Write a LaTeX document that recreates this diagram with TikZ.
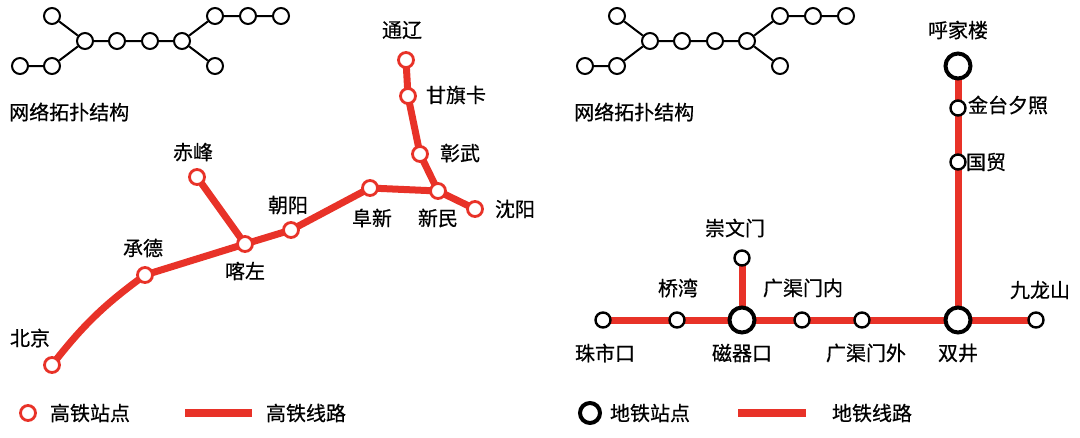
\documentclass[tikz,border=0pt]{standalone}
\usepackage{fontspec}
\setmainfont{Noto Sans CJK SC}[FakeBold=0.6]
\definecolor{railred}{RGB}{232,50,40}
\tikzset{
  topo/.style={circle,draw=black,fill=white,line width=2pt,minimum size=16pt,inner sep=0pt},
  hsr/.style={circle,draw=railred,fill=white,line width=2.8pt,minimum size=15pt,inner sep=0pt},
  metro/.style={circle,draw=black,fill=white,line width=2.4pt,minimum size=15pt,inner sep=0pt},
  hub/.style={circle,draw=black,fill=white,line width=4pt,minimum size=25pt,inner sep=0pt},
  track/.style={railred,line width=7pt},
  lbl/.style={font=\fontsize{20}{22}\selectfont,inner sep=1pt}
}
\begin{document}
\begin{tikzpicture}[x=1pt,y=-1pt]
\useasboundingbox (0,0) rectangle (1080,437);
% network topology, left and right
\foreach \dx in {0,565} {
  \begin{scope}[xshift=\dx]
    \foreach \a/\b in {20/66,52/66,85/41,117/41,150/41,182/41,215/16,248/16,281/16,215/66,52/16}
      \node[topo] (t\a\b) at (\a,\b) {};
    \draw[line width=2pt] (t2066)--(t5266)--(t8541)--(t11741)--(t15041)--(t18241)--(t21516)--(t24816)--(t28116);
    \draw[line width=2pt] (t5216)--(t8541) (t18241)--(t21566);
    \node[lbl,anchor=west] (topo\dx) at (8,112) {网络拓扑结构};
  \end{scope}
}
% high speed rail
\foreach \n/\x/\y in {bj/52/365,cd/145/275,kz/245/244,cf/197/177,cy/291/230,fx/370/188,xm/438/191,sy/475/209,zw/420/154,gq/408/96,tl/406/60}
  \coordinate (c\n) at (\x,\y);
\draw[track,line join=round] (cbj) to[bend left=8] (ccd) -- (ckz) -- (ccy) -- (cfx) -- (cxm) -- (csy);
\draw[track,line join=round] (ccf) -- (ckz) (cxm) -- (czw) -- (cgq) -- (ctl);
\foreach \n in {bj,cd,kz,cf,cy,fx,xm,sy,zw,gq,tl}
  \node[hsr] (\n) at (c\n) {};
\node[lbl] (lbj) at (30,338) {北京};
\node[lbl] (lcd) at (143,248) {承德};
\node[lbl] (lkz) at (245,271) {喀左};
\node[lbl] (lcf) at (193,152) {赤峰};
\node[lbl] (lcy) at (288,205) {朝阳};
\node[lbl] (lfx) at (372,218) {阜新};
\node[lbl] (lxm) at (438,218) {新民};
\node[lbl] (lsy) at (515,209) {沈阳};
\node[lbl] (lzw) at (460,153) {彰武};
\node[lbl] (lgq) at (456,95) {甘旗卡};
\node[lbl] (ltl) at (402,30) {通辽};
% subway
\foreach \n/\x/\y in {hj/958/66,jt/958/108,gm/958/162,sj/958/320,jl/1036/320,gw/862/320,gn/802/320,cq/742/320,cw/742/258,qw/677/320,zs/603/320}
  \coordinate (c\n) at (\x,\y);
\draw[track] (czs) -- (cjl) (chj) -- (csj) (ccw) -- (ccq);
\foreach \n in {jt,gm,jl,gw,gn,cw,qw,zs}
  \node[metro] (\n) at (c\n) {};
\foreach \n in {hj,sj,cq}
  \node[hub] (\n) at (c\n) {};
\node[lbl] (lhj) at (958,30) {呼家楼};
\node[lbl] (ljt) at (1008,105) {金台夕照};
\node[lbl] (lgm) at (986,162) {国贸};
\node[lbl] (lsj) at (958,353) {双井};
\node[lbl] (ljl) at (1040,290) {九龙山};
\node[lbl] (lgw) at (866,353) {广渠门外};
\node[lbl] (lgn) at (803,288) {广渠门内};
\node[lbl] (lcq) at (742,353) {磁器口};
\node[lbl] (lcw) at (735,228) {崇文门};
\node[lbl] (lqw) at (678,288) {桥湾};
\node[lbl] (lzs) at (605,353) {珠市口};
% legends
\node[hsr] (keyhsr) at (28,413) {};
\node[lbl] (lkeyhsr) at (90,413) {高铁站点};
\coordinate (h1) at (185,413); \coordinate (h2) at (252,413);
\draw[railred,line width=8pt] (h1) -- (h2);
\node[lbl] (lkeyhl) at (306,413) {高铁线路};
\node[hub,minimum size=20pt] (keymetro) at (590,413) {};
\node[lbl] (lkeymetro) at (650,413) {地铁站点};
\coordinate (m1) at (738,413); \coordinate (m2) at (806,413);
\draw[railred,line width=8pt] (m1) -- (m2);
\node[lbl] (lkeyml) at (872,413) {地铁线路};
\end{tikzpicture}
\end{document}
